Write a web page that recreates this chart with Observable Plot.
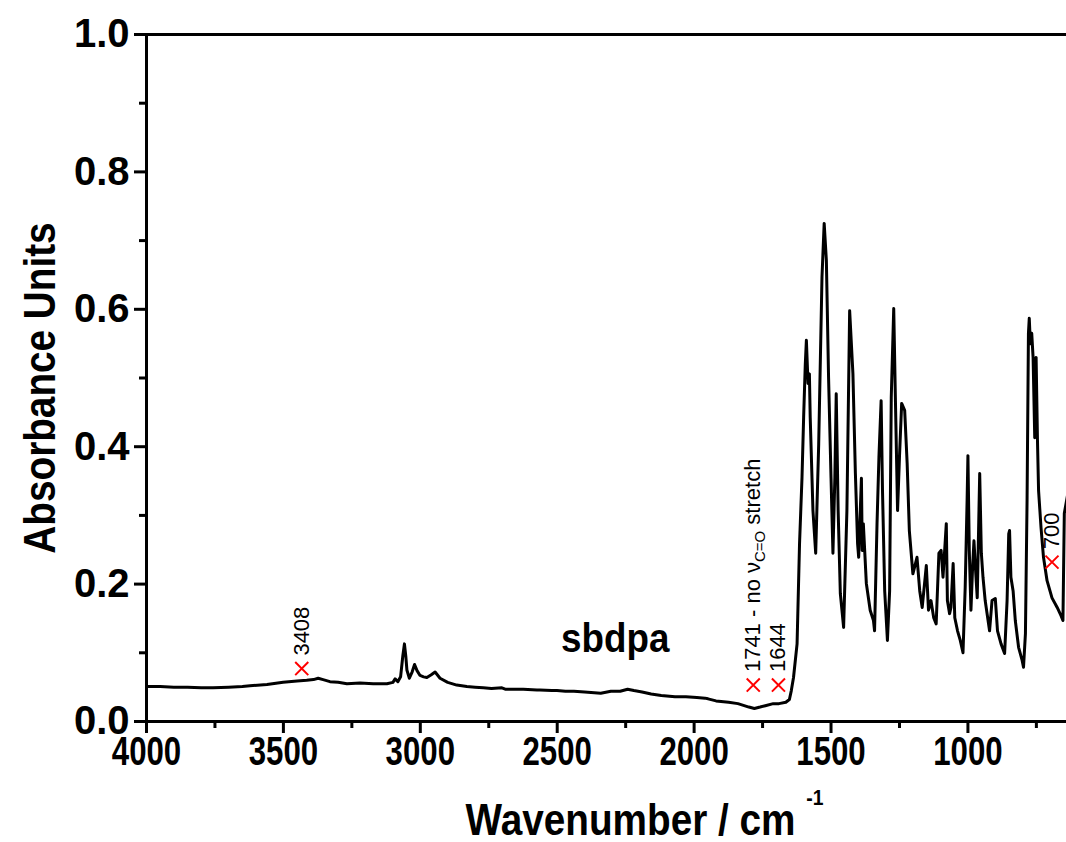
<!DOCTYPE html>
<html><head><meta charset="utf-8">
<script src="https://cdn.jsdelivr.net/npm/d3@7"></script>
<script src="https://cdn.jsdelivr.net/npm/@observablehq/plot@0.6"></script>
<style>html,body{margin:0;padding:0;background:#fff;overflow:hidden;}</style>
</head><body><div id="chart"></div>
<script>
// Spectrum (wavenumber in cm^-1, absorbance units)
const wavenumbers = [4000,3950,3900,3850,3800,3757,3700,3650,3622,3560,3501,3450,3415,3390,3373,3355,3330,3300,3268,3220,3172,3122,3100,3092,3082,3072,3064,3058,3053,3049,3040,3030,3021,3012,3001,2988,2976,2960,2946,2938,2928,2900,2867,2830,2800,2770,2740,2702,2690,2650,2624,2574,2563,2520,2501,2470,2439,2400,2341,2304,2270,2243,2220,2190,2157,2120,2070,2030,1990,1960,1949,1920,1874,1840,1800,1780,1759,1740,1711,1690,1665,1652,1645,1637,1624,1615,1606,1600,1594,1590,1584,1579,1576,1566,1556,1545,1533,1525,1517,1509,1500,1493,1486,1481,1474,1466,1454,1442,1432,1420,1411,1403,1399,1389,1386,1382,1371,1357,1345,1341,1332,1325,1317,1312,1304,1294,1286,1280,1271,1265,1257,1250,1242,1231,1222,1214,1201,1186,1176,1167,1152,1144,1135,1125,1116,1106,1098,1091,1079,1075,1067,1062,1054,1048,1038,1028,1018,1010,1003,1000,995,989,983,978,972,966,957,951,945,937,921,912,900,892,879,866,857,851,848,843,835,827,815,802,797,790,784,779,776,772,767,762,756,751,746,742,733,724,711,693,674,660,653,648,636];
const absorbance = [0.051,0.051,0.050,0.050,0.049,0.049,0.050,0.051,0.052,0.054,0.057,0.059,0.060,0.061,0.063,0.061,0.058,0.057,0.055,0.056,0.055,0.055,0.057,0.062,0.058,0.065,0.095,0.113,0.095,0.075,0.063,0.072,0.083,0.074,0.067,0.065,0.064,0.068,0.072,0.068,0.063,0.057,0.053,0.051,0.050,0.049,0.048,0.049,0.047,0.047,0.047,0.046,0.046,0.045,0.045,0.044,0.044,0.043,0.041,0.044,0.044,0.047,0.045,0.043,0.040,0.038,0.036,0.036,0.035,0.034,0.033,0.030,0.028,0.026,0.021,0.019,0.021,0.023,0.026,0.026,0.028,0.032,0.045,0.064,0.113,0.259,0.355,0.443,0.520,0.555,0.492,0.506,0.443,0.307,0.245,0.404,0.647,0.725,0.671,0.501,0.355,0.245,0.355,0.477,0.307,0.186,0.137,0.307,0.598,0.506,0.361,0.259,0.239,0.354,0.249,0.288,0.201,0.162,0.147,0.132,0.288,0.385,0.467,0.336,0.190,0.118,0.190,0.472,0.601,0.472,0.307,0.385,0.463,0.453,0.376,0.278,0.215,0.239,0.190,0.166,0.227,0.162,0.176,0.151,0.142,0.245,0.249,0.210,0.288,0.176,0.157,0.166,0.230,0.151,0.132,0.118,0.100,0.195,0.322,0.387,0.249,0.162,0.224,0.263,0.220,0.180,0.361,0.245,0.210,0.176,0.132,0.176,0.179,0.132,0.113,0.099,0.176,0.273,0.278,0.210,0.190,0.147,0.108,0.089,0.079,0.128,0.322,0.565,0.587,0.550,0.565,0.530,0.413,0.530,0.409,0.336,0.282,0.239,0.205,0.180,0.166,0.154,0.147,0.303,0.330];

// Axis ticks
const xTicksMajor = [4000,3500,3000,2500,2000,1500,1000];
const xTicksMinor = [3750,3250,2750,2250,1750,1250,750];
const yTicksMajor = [0,0.2,0.4,0.6,0.8,1.0];
const yTicksMinor = [0.1,0.3,0.5,0.7,0.9];

// Annotations
const markWn = [3433,1784,1692,693];
const markAbs = [0.077,0.053,0.053,0.232];
const markLabels = ["3408","1741 - no νC=O stretch","1644","700"];
const sampleName = ["sbdpa"];
const sampleWn = [2288];
const sampleAbs = [0.12];

const spectrum = wavenumbers.map((w, i) => ({wn: w, a: absorbance[i]}));
const marks = markWn.map((w, i) => ({wn: w, a: markAbs[i], label: markLabels[i]}));
const sample = sampleName.map((s, i) => ({wn: sampleWn[i], a: sampleAbs[i], label: s}));

const FONT = "'Liberation Sans', Arial, Helvetica, sans-serif";

const plot = Plot.plot({
  width: 1066,
  height: 842,
  marginLeft: 146,
  marginRight: 0,
  marginTop: 34,
  marginBottom: 121,
  x: {domain: [4000, 640]},
  y: {domain: [0, 1]},
  style: {fontFamily: FONT, fontSize: "32px", fontWeight: "bold", background: "white", color: "black", overflow: "visible"},
  marks: [
    Plot.line(spectrum, {x: "wn", y: "a", stroke: "black", strokeWidth: 3, clip: true}),
    Plot.ruleY([1], {stroke: "black", strokeWidth: 3}),
    Plot.ruleY([0], {stroke: "black", strokeWidth: 3}),
    Plot.ruleX([4000], {stroke: "black", strokeWidth: 3}),
    Plot.axisX(xTicksMajor, {anchor: "bottom", tickSize: 12, tickPadding: 3, strokeWidth: 3, fontSize: 40, fontWeight: "bold", tickFormat: d => String(d), label: null}),
    Plot.axisX(xTicksMinor, {anchor: "bottom", tickSize: 7, strokeWidth: 3, tickFormat: () => "", label: null}),
    Plot.axisY(yTicksMajor, {anchor: "left", tickSize: 12, tickPadding: 5, strokeWidth: 3, fontSize: 40, fontWeight: "bold", tickFormat: d3.format(".1f"), label: null}),
    Plot.axisY(yTicksMinor, {anchor: "left", tickSize: 7, strokeWidth: 3, tickFormat: () => "", label: null}),
    Plot.dot(marks, {x: "wn", y: "a", symbol: "times", r: 6, stroke: "#ff0000", strokeWidth: 2}),
    Plot.text(marks, {x: "wn", y: "a", text: "label", rotate: -90, textAnchor: "start", dy: -13, fontSize: 22, fontWeight: "normal", fill: "black"}),
    Plot.text(sample, {x: "wn", y: "a", text: "label", fontSize: 40, fontWeight: "bold", fill: "black"}),
    Plot.text(["Absorbance Units"], {frameAnchor: "left", textAnchor: "middle", rotate: -90, dx: -106, dy: 10, fontSize: 44, fontWeight: "bold"}),
    Plot.text(["Wavenumber / cm-1"], {frameAnchor: "bottom", textAnchor: "middle", dx: 38, dy: 113, fontSize: 44, fontWeight: "bold"})
  ]
});
document.getElementById("chart").appendChild(plot);

// Condense text horizontally (reference uses a narrow bold face)
function condense(el, k) {
  const tr = el.getAttribute("transform");
  if (tr) {
    el.setAttribute("transform", tr + ` scale(${k},1)`);
  } else {
    const x = +el.getAttribute("x") || 0, y = +el.getAttribute("y") || 0;
    el.removeAttribute("x"); el.removeAttribute("y");
    el.setAttribute("transform", `translate(${x},${y}) scale(${k},1)`);
  }
}
const xTickStrings = new Set(xTicksMajor.map(String));
d3.select(plot).selectAll("text").each(function() {
  const t = d3.select(this);
  const s = this.textContent;
  if (xTickStrings.has(s)) {
    condense(this, 0.78);
  } else if (s === "Wavenumber / cm-1") {
    t.text(null);
    t.append("tspan").text("Wavenumber / cm ");
    t.append("tspan").attr("font-size", 22).attr("dy", -30).text("-1");
    condense(this, 0.88);
  } else if (s === "Absorbance Units") {
    condense(this, 0.88);
  } else if (s === "sbdpa") {
    condense(this, 0.92);
  } else if (s === "1741 - no νC=O stretch") {
    t.text(null);
    t.append("tspan").text("1741 - no ν");
    t.append("tspan").attr("font-size", 15).attr("dy", 5).text("C=O");
    t.append("tspan").attr("dy", -5).text(" stretch");
  }
});
</script>
</body></html>
